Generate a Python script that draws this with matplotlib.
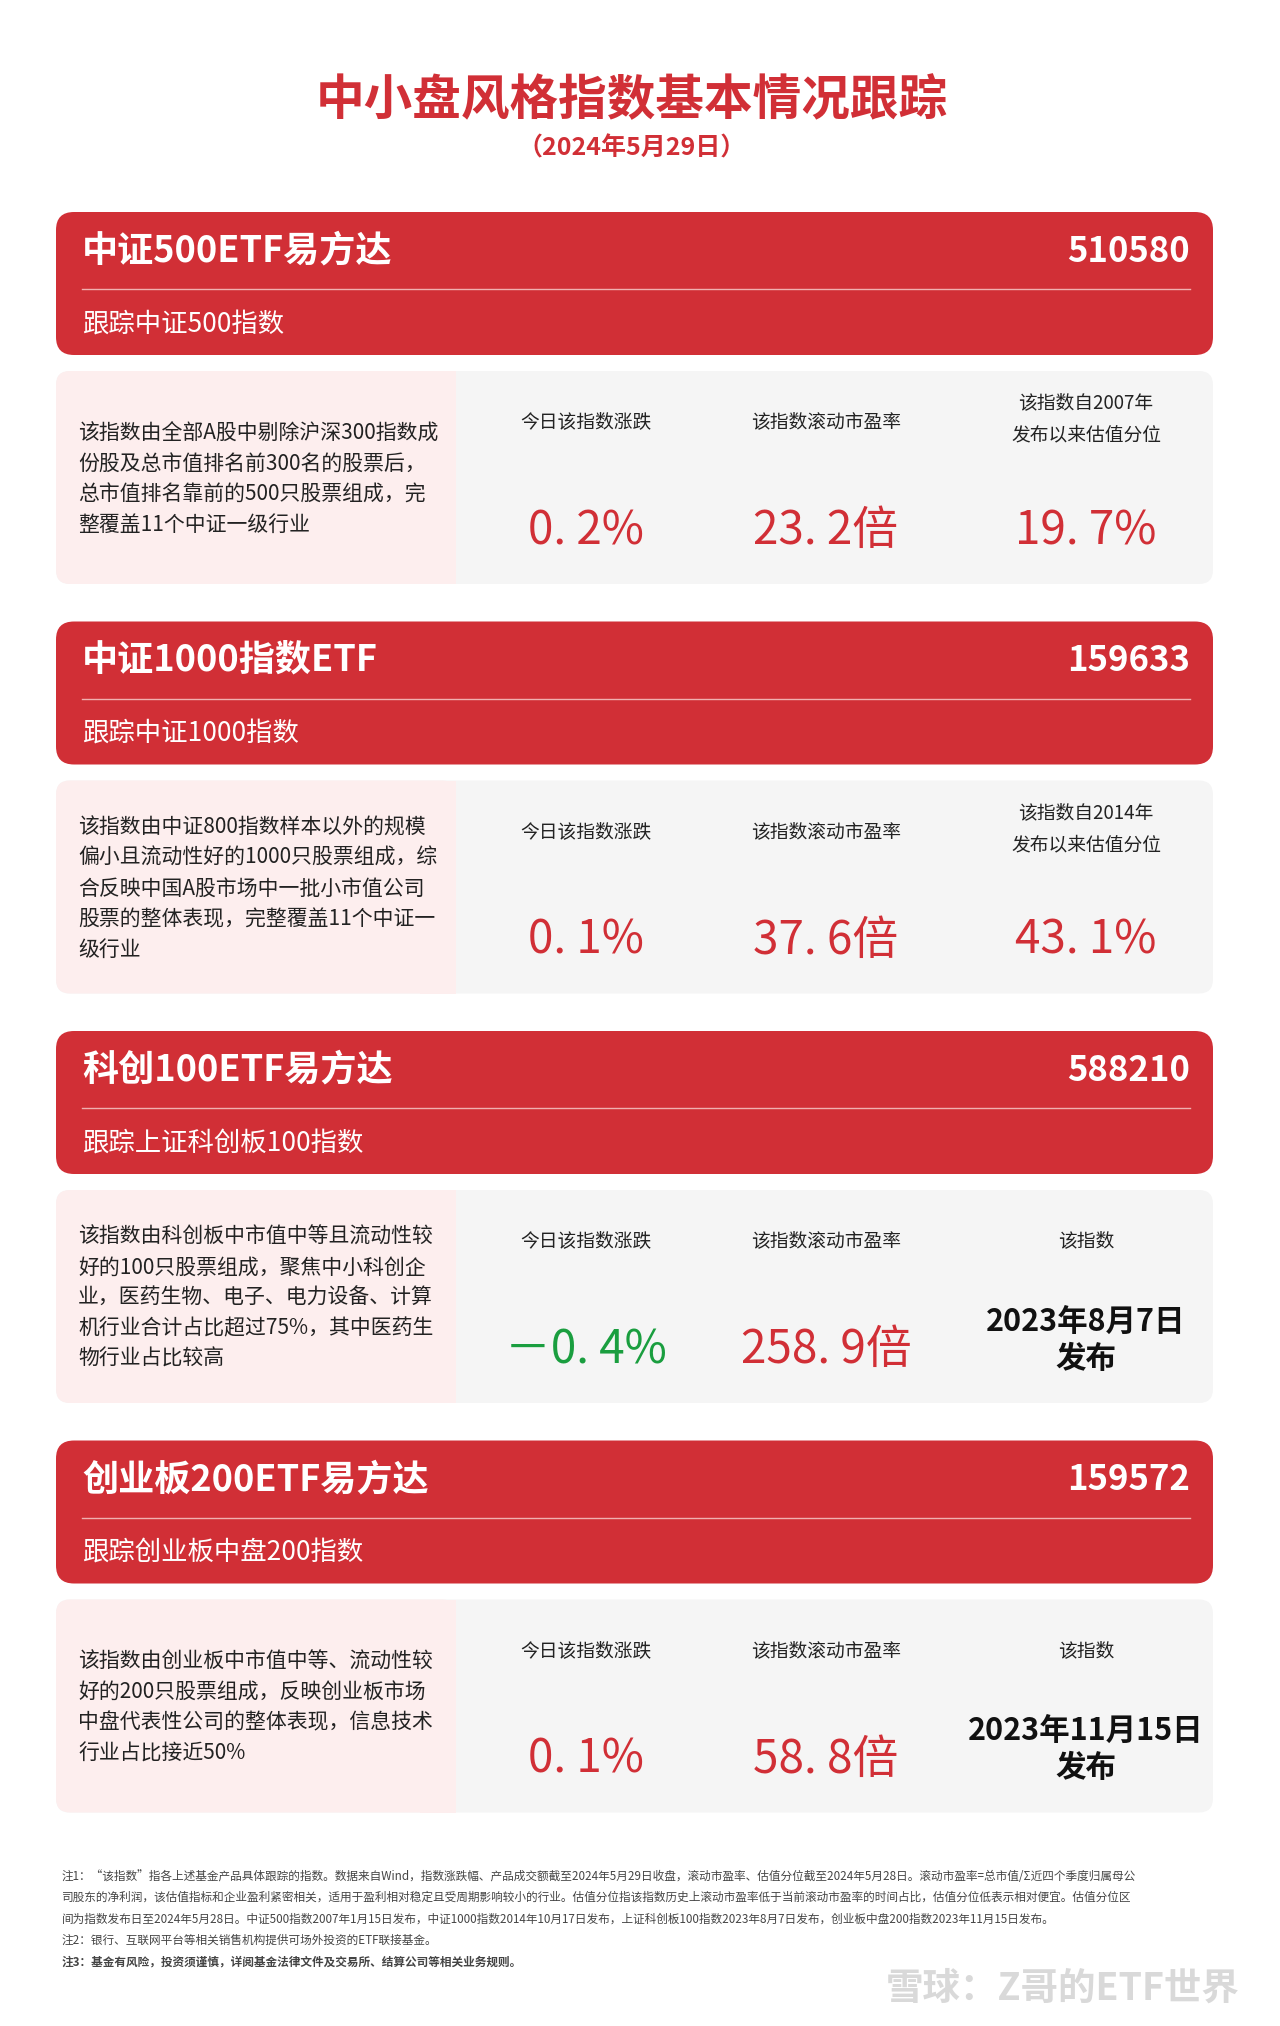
import matplotlib
matplotlib.use("Agg")
import matplotlib.pyplot as plt
from matplotlib.patches import FancyBboxPatch, Rectangle

plt.rcParams["font.family"] = "Noto Sans CJK SC"

RED = "#d12f36"
GREEN = "#1a9e3f"

fund_names = ["中证500ETF易方达", "中证1000指数ETF", "科创100ETF易方达", "创业板200ETF易方达"]
fund_codes = ["510580", "159633", "588210", "159572"]
track_texts = ["跟踪中证500指数", "跟踪中证1000指数", "跟踪上证科创板100指数", "跟踪创业板中盘200指数"]
descs = [
    "该指数由全部A股中剔除沪深300指数成\n份股及总市值排名前300名的股票后，\n总市值排名靠前的500只股票组成，完\n整覆盖11个中证一级行业",
    "该指数由中证800指数样本以外的规模\n偏小且流动性好的1000只股票组成，综\n合反映中国A股市场中一批小市值公司\n股票的整体表现，完整覆盖11个中证一\n级行业",
    "该指数由科创板中市值中等且流动性较\n好的100只股票组成，聚焦中小科创企\n业，医药生物、电子、电力设备、计算\n机行业合计占比超过75%，其中医药生\n物行业占比较高",
    "该指数由创业板中市值中等、流动性较\n好的200只股票组成，反映创业板市场\n中盘代表性公司的整体表现，信息技术\n行业占比接近50%",
]
day_change = [0.2, 0.1, -0.4, 0.1]
pe_ttm = [23.2, 37.6, 258.9, 58.8]
third_headers = ["该指数自2007年\n发布以来估值分位", "该指数自2014年\n发布以来估值分位", "该指数", "该指数"]
third_values = ["19.7%", "43.1%", "2023年8月7日\n发布", "2023年11月15日\n发布"]

notes = [
    "注1：“该指数”指各上述基金产品具体跟踪的指数。数据来自Wind，指数涨跌幅、产品成交额截至2024年5月29日收盘，滚动市盈率、估值分位截至2024年5月28日。滚动市盈率=总市值/Σ近四个季度归属母公",
    "司股东的净利润，该估值指标和企业盈利紧密相关，适用于盈利相对稳定且受周期影响较小的行业。估值分位指该指数历史上滚动市盈率低于当前滚动市盈率的时间占比，估值分位低表示相对便宜。估值分位区",
    "间为指数发布日至2024年5月28日。中证500指数2007年1月15日发布，中证1000指数2014年10月17日发布，上证科创板100指数2023年8月7日发布，创业板中盘200指数2023年11月15日发布。",
    "注2：银行、互联网平台等相关销售机构提供可场外投资的ETF联接基金。",
    "注3：基金有风险，投资须谨慎，详阅基金法律文件及交易所、结算公司等相关业务规则。",
]


def fw(s):
    # spaced period and wide minus as in the reference numbers
    return s.replace(".", ". ").replace("-", "－")


fig = plt.figure(figsize=(12.8, 20.26), dpi=100)
ax = fig.add_axes([0, 0, 1, 1])
ax.set_xlim(0, 1280)
ax.set_ylim(2026, 0)
ax.axis("off")

ax.text(632, 101, "中小盘风格指数基本情况跟踪", color=RED, fontsize=35, fontweight="bold",
        ha="center", va="center")
ax.text(632, 148, "（2024年5月29日）", color=RED, fontsize=18, fontweight="bold",
        ha="center", va="center")

col_x = [586, 826, 1086]
for i in range(len(fund_names)):
    top = 212 + i * 409.5
    ax.add_patch(FancyBboxPatch((56, top), 1157, 143, boxstyle="round,pad=0,rounding_size=18",
                                fc=RED, ec="none"))
    ax.text(82, top + 39, fund_names[i], color="white", fontsize=26, fontweight="bold", va="center")
    ax.text(1190, top + 39, fund_codes[i], color="white", fontsize=25, fontweight="bold",
            va="center", ha="right")
    ax.plot([82, 1190], [top + 77, top + 77], color="#f0b0b0", lw=1)
    ax.text(82, top + 113, track_texts[i], color="white", fontsize=19, va="center")

    gtop = top + 159
    ax.add_patch(FancyBboxPatch((56, gtop), 1157, 213, boxstyle="round,pad=0,rounding_size=14",
                                fc="#f5f5f5", ec="none"))
    ax.add_patch(FancyBboxPatch((56, gtop), 400, 213, boxstyle="round,pad=0,rounding_size=14",
                                fc="#fdeeee", ec="none"))
    ax.add_patch(Rectangle((420, gtop), 36, 213, fc="#fdeeee", ec="none"))
    ax.text(78, gtop + 108, descs[i], fontsize=15, va="center", ha="left", color="#222222",
            linespacing=1.5)

    ax.text(col_x[0], gtop + 51, "今日该指数涨跌", fontsize=13.5, ha="center", va="center", color="#222222")
    ax.text(col_x[1], gtop + 51, "该指数滚动市盈率", fontsize=13.5, ha="center", va="center", color="#222222")
    two = "\n" in third_headers[i]
    ax.text(col_x[2], gtop + (48 if two else 51), third_headers[i], fontsize=13.5, ha="center",
            va="center", color="#222222", linespacing=1.7)

    chg = day_change[i]
    ax.text(col_x[0], gtop + 160, fw(f"{chg:.1f}%"), fontsize=33, fontweight="medium",
            ha="center", va="center", color=GREEN if chg < 0 else RED)
    ax.text(col_x[1], gtop + 160, fw(f"{pe_ttm[i]:.1f}") + "倍", fontsize=33, fontweight="medium",
            ha="center", va="center", color=RED)
    if "%" in third_values[i]:
        ax.text(col_x[2], gtop + 160, fw(third_values[i]), fontsize=33, fontweight="medium",
                ha="center", va="center", color=RED)
    else:
        ax.text(col_x[2], gtop + 150, third_values[i], fontsize=22, fontweight="bold",
                ha="center", va="center", color="#111111", linespacing=1.2)

for j, line in enumerate(notes):
    ax.text(62, 1876 + j * 21.5, line, fontsize=8.4, va="center", color="#444444",
            fontweight="bold" if j == 4 else "normal")

ax.text(1240, 1988, "雪球：Z哥的ETF世界", fontsize=27, color="#d9d9d9", ha="right", va="center",
        fontweight="bold")

fig.savefig("out.png", dpi=100)
